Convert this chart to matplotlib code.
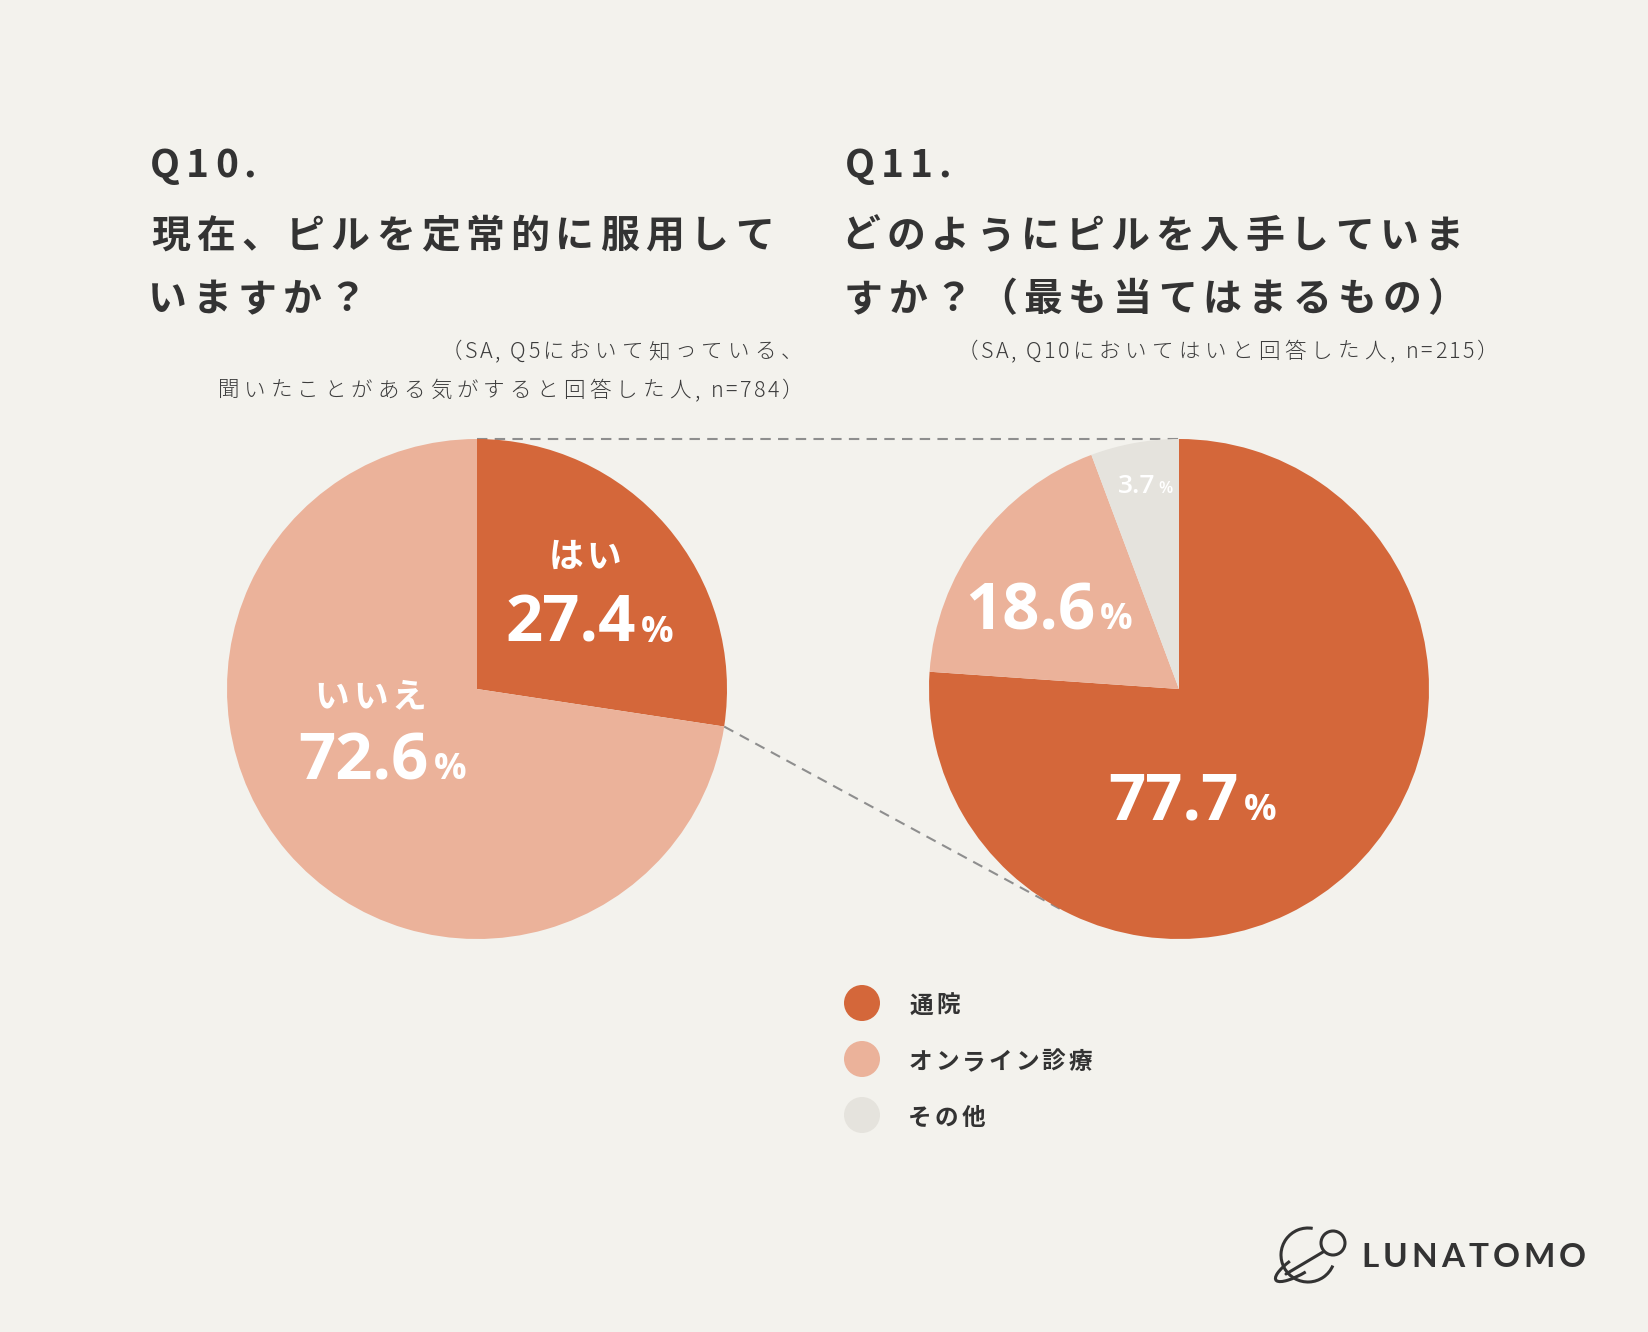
import numpy as np
import matplotlib
matplotlib.use('Agg')
import matplotlib.pyplot as plt
from matplotlib.patches import Circle, Arc
from matplotlib.font_manager import FontProperties, findfont, get_font

W, H = 1648, 1332
DPI = 100

BG = '#F3F2ED'
DARK = '#333333'
ORANGE = '#D4673A'
PINK = '#EBB29A'
GRAY = '#E5E3DD'
DASH = '#8E8E8E'
JP = ['Noto Sans CJK JP', 'DejaVu Sans']
NUM = ['Open Sans', 'DejaVu Sans']

# data
q10_labels = ['はい', 'いいえ']
q10_values = [27.4, 72.6]
q11_labels = ['通院', 'オンライン診療', 'その他']
q11_values = [77.7, 18.6, 3.7]
# the reference draws the Q11 slices a bit off the printed numbers
q11_drawn = [76.1, 18.2, 5.7]

q10_title = ['Q10.', '現在、ピルを定常的に服用して', 'いますか？']
q10_note = ['（SA, Q5において知っている、', '聞いたことがある気がすると回答した人, n=784）']
q11_title = ['Q11.', 'どのようにピルを入手していま', 'すか？（最も当てはまるもの）']
q11_note = ['（SA, Q10においてはいと回答した人, n=215）']

R = 250
C1 = (477, 689)
C2 = (1179, 689)


def glyph_metrics(s, prop):
    font = get_font(findfont(prop))
    font.set_size(prop.get_size_in_points(), DPI)
    out = []
    for ch in s:
        g = font.load_char(ord(ch))
        out.append((g.linearHoriAdvance / 65536, g.horiBearingX / 64, g.width / 64))
    return out


def spaced_text(ax, x, y, s, size, track, ha='left', weight='normal', color=DARK,
                family=JP, latin_track=None):
    # text with letter spacing, y is the baseline (pixels from top)
    if latin_track is None:
        latin_track = track
    prop = FontProperties(family=family, size=size, weight=weight)
    m = glyph_metrics(s, prop)
    tr = []
    for i, ch in enumerate(s):
        nxt = s[i + 1] if i + 1 < len(s) else ''
        if ord(ch) > 127 and not (ch == '（' and nxt and ord(nxt) < 128):
            tr.append(track)
        else:
            tr.append(latin_track)
    if ha == 'left':
        pen = x - m[0][1]
    else:
        total = sum(a for a, _, _ in m[:-1]) + sum(tr[:-1]) + m[-1][1] + m[-1][2]
        pen = x - total if ha == 'right' else x - total / 2
    for ch, (adv, bx, gw), k in zip(s, m, tr):
        if not ch.isspace():
            ax.text(pen, H - y, ch, fontproperties=prop, color=color,
                    ha='left', va='baseline')
        pen += adv + k


def pct_label(ax, x_split, y, num, size, pct_size, weight='bold', gap=5):
    ax.text(x_split, H - y, num, family=NUM, fontsize=size, weight=weight,
            color='white', ha='right', va='baseline')
    ax.text(x_split + gap, H - y, '%', family=NUM, fontsize=pct_size, weight=weight,
            color='white', ha='left', va='baseline')


fig = plt.figure(figsize=(W / DPI, H / DPI), dpi=DPI, facecolor=BG)
ax = fig.add_axes([0, 0, 1, 1])
ax.set_facecolor(BG)

w1, _ = ax.pie(q10_values, colors=[ORANGE, PINK], startangle=90, counterclock=False,
               center=(C1[0], H - C1[1]), radius=R, wedgeprops=dict(linewidth=0))
w2, _ = ax.pie(q11_drawn, colors=[ORANGE, PINK, GRAY], startangle=90, counterclock=False,
               center=(C2[0], H - C2[1]), radius=R, wedgeprops=dict(linewidth=0))

ax.set_xlim(0, W)
ax.set_ylim(0, H)
ax.set_aspect('equal')
ax.axis('off')

# connector lines
dash_kw = dict(color=DASH, lw=1.5, ls=(0, (5, 3.5)), zorder=0.5)
ax.plot([C1[0], C2[0]], [H - C1[1] + R, H - C2[1] + R], **dash_kw)
a = np.deg2rad(w1[0].theta1)
p = np.array([C1[0] + R * np.cos(a), H - C1[1] + R * np.sin(a)])
c2 = np.array([C2[0], H - C2[1]])
d = p - c2
L = np.hypot(*d)
ta = np.arctan2(d[1], d[0]) + np.arccos(R / L)
t = c2 + R * np.array([np.cos(ta), np.sin(ta)])
ax.plot([p[0], t[0]], [p[1], t[1]], **dash_kw)

# pie labels
spaced_text(ax, 584, 567, q10_labels[0], 25, 3, ha='center', weight='bold', color='white')
pct_label(ax, 636, 642, f'{q10_values[0]:.1f}', 47, 26)
spaced_text(ax, 369, 707, q10_labels[1], 25, 4, ha='center', weight='bold', color='white')
pct_label(ax, 429, 779, f'{q10_values[1]:.1f}', 47, 26)
pct_label(ax, 1095, 629, f'{q11_values[1]:.1f}', 47, 26)
pct_label(ax, 1239, 820, f'{q11_values[0]:.1f}', 47, 26)
pct_label(ax, 1155, 493, f'{q11_values[2]:.1f}', 19, 12, weight='semibold', gap=3)

# titles
for x0, lines, notes, note_right in [(152, q10_title, q10_note, 788),
                                     (847, q11_title, q11_note, 1483)]:
    spaced_text(ax, x0, 177, lines[0], 28, 6, weight='bold')
    spaced_text(ax, x0, 248, lines[1], 28, 6, weight='bold')
    spaced_text(ax, x0, 311, lines[2], 28, 6, weight='bold')
    for i, n in enumerate(notes):
        spaced_text(ax, note_right, 358 + 39 * i, n, 15.5, 5, ha='right',
                    weight=300, color='#3C3C3C', latin_track=2.5)

# legend
for i, (lab, col) in enumerate(zip(q11_labels, [ORANGE, PINK, GRAY])):
    cy = 1003 + 56 * i
    ax.add_patch(Circle((862, H - cy), 18, color=col, lw=0))
    spaced_text(ax, 910, cy + 10, lab, 17, 3, weight='bold')

# logo
lk = dict(color=DARK, lw=2.2, fill=False)
ax.add_patch(Arc((1308, H - 1255), 54, 54, theta1=80, theta2=337, **lk))
ax.add_patch(Circle((1333, H - 1243), 12, **lk))
ax.plot([1323, 1286], [H - 1252, H - 1274], color=DARK, lw=2.2, solid_capstyle='round')
ax.add_patch(Arc((1303, H - 1263), 64, 18, angle=32, theta1=140, theta2=255, **lk))
spaced_text(ax, 1364, 1267, 'LUNATOMO', 24, 4, weight='bold', family=['Lato', 'DejaVu Sans'])

fig.savefig('out.png', dpi=DPI, facecolor=BG)
